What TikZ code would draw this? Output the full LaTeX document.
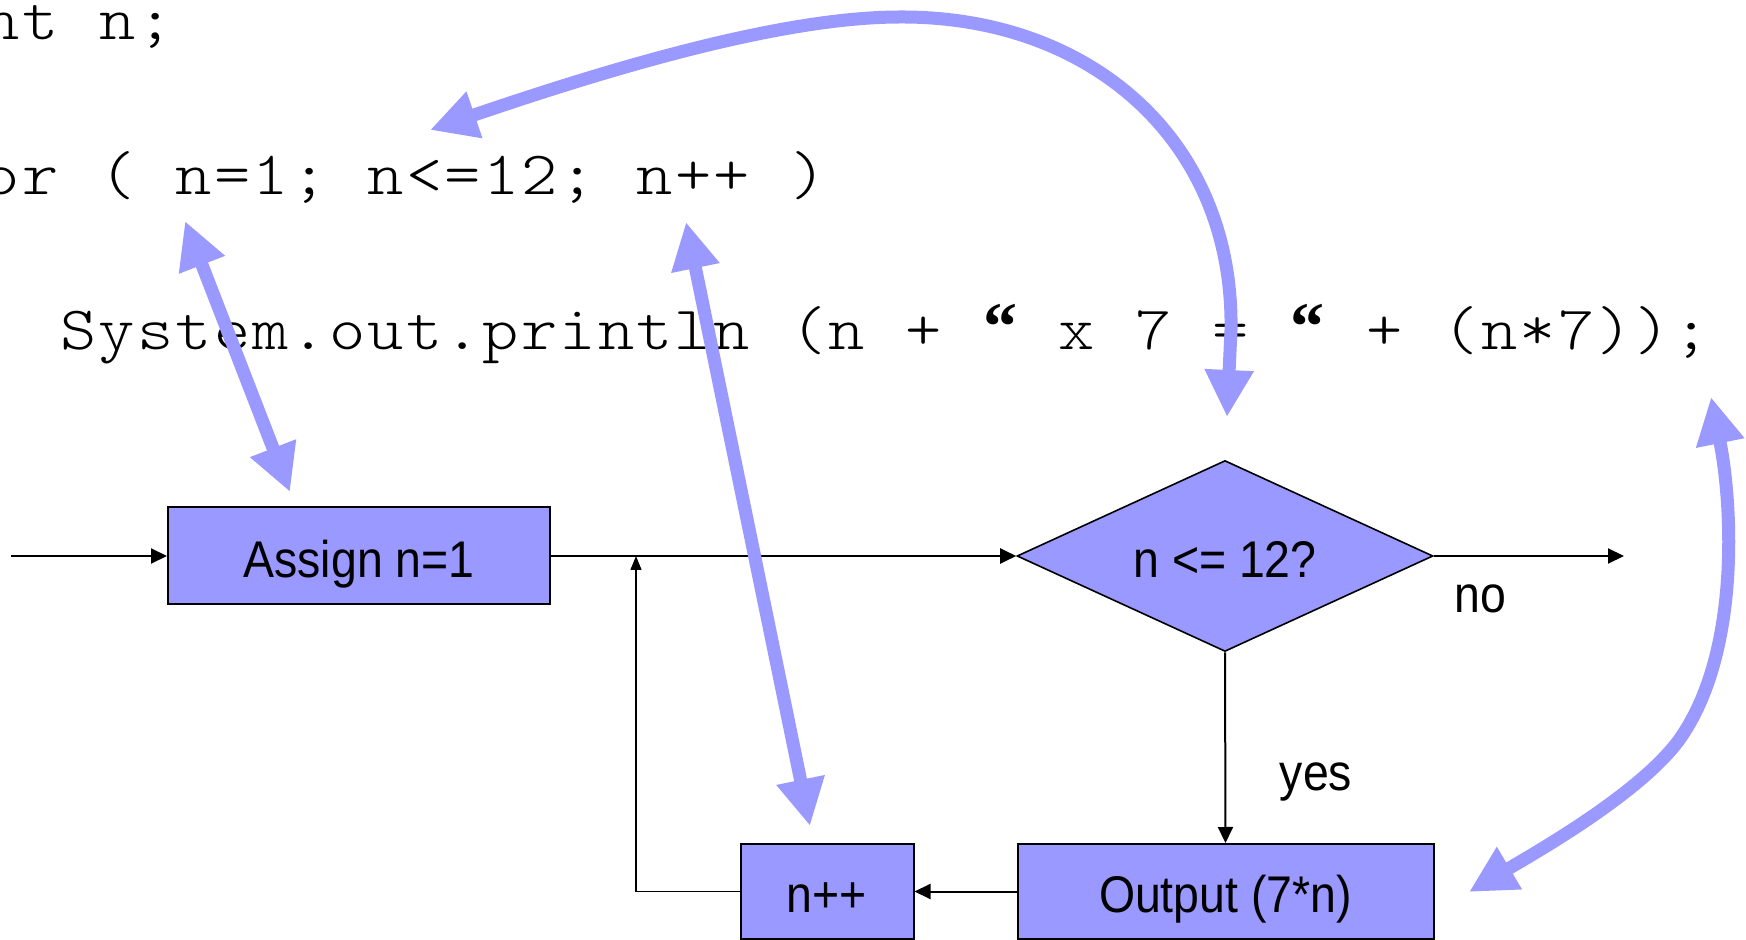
\documentclass[tikz,border=0pt]{standalone}
\usepackage{fontspec}
\newfontfamily\lblfont{Liberation Sans}[FakeStretch=0.9]
\newfontfamily\codefont{lmmonolt10-regular.otf}[FakeStretch=1.12]
\newfontfamily\quotefont{Liberation Serif}
\usetikzlibrary{arrows.meta,shapes.geometric}
\definecolor{flowblue}{RGB}{153,153,255}
\makeatletter
\newlength\cpitch
\setlength\cpitch{19.2pt}
\newcommand\monoline[1]{\@tfor\mch:=#1\do{\makebox[\cpitch]{\mch}}}
\makeatother
\newcommand\openq{{\quotefont\bfseries\fontsize{34pt}{36pt}\selectfont “}}
\begin{document}
\begin{tikzpicture}[x=0.5pt,y=-0.5pt,
  box/.style={draw=black,line width=1pt,fill=flowblue,inner sep=0pt,
    text height=21.3pt,text depth=0pt,
    font={\lblfont\fontsize{25.8pt}{30pt}\selectfont}},
  dia/.style={diamond,draw=black,line width=0.8pt,fill=flowblue,inner sep=0pt,aspect=2.18,
    minimum width=208pt,minimum height=95.5pt,text height=21.3pt,text depth=0pt,
    font={\lblfont\fontsize{25.8pt}{30pt}\selectfont}},
  code/.style={anchor=base west,inner sep=0pt,
    font={\codefont\fontsize{30.8pt}{36pt}\selectfont}},
  lbl/.style={anchor=base,inner sep=0pt,
    font={\lblfont\fontsize{25.8pt}{30pt}\selectfont}},
  flow/.style={draw=black,line width=1pt,-{Triangle[length=8pt,width=7.5pt]}},
  backflow/.style={draw=black,line width=0.7pt,-{Triangle[length=7pt,width=5.5pt]}},
  link/.style={draw=flowblue,line width=6.5pt,
    {Triangle[length=23.5pt,width=23pt]}-{Triangle[length=23.5pt,width=23pt]}}
]
\useasboundingbox (0,0) rectangle (1746,940);
\clip (0,0) rectangle (1746,940);

% code lines
\node[code] (l1) at (-56,40) {\monoline{int~n;}};
\node[code] (l2) at (-56,195) {\monoline{for~(~n=1;~n<=12;~n++~)}};
\node[code] (l3) at (59,350) {\monoline{System.out.println~(n~+~\openq~x~7~=~\openq~+~(n*7));}};

% flowchart nodes
\node[box,minimum width=191pt,minimum height=48.5pt] (asg) at (359,556) {Assign n=1};
\node[dia] (dec) at (1225,556) {n <= 12?};
\node[box,minimum width=208pt,minimum height=47.5pt] (out) at (1225.5,891.5) {Output (7*n)};
\node[box,minimum width=86.5pt,minimum height=47.5pt] (inc) at (827,891.5) {n++};
\node[lbl] (no) at (1480,613) {no};
\node[lbl] (yes) at (1316,790) {yes};

% flow connectors
\coordinate (start) at (11,556);
\coordinate (noend) at (1624,556);
\coordinate (join) at (636,556);
\draw[flow] (start) -- (asg.west);
\draw[flow] (asg.east) -- (dec.west);
\draw[flow] (dec.east) -- (noend);
\draw[flow] (dec.south) -- (out.north);
\draw[flow] (out.west) -- (inc.east);
\draw[backflow] (inc.west) -| (join);

% blue links between code and chart
\coordinate (c1) at (185,221);
\coordinate (a1) at (290,492);
\coordinate (c2) at (686,222);
\coordinate (a2) at (810,826);
\coordinate (c3) at (430,130);
\coordinate (a3) at (1227,417);
\coordinate (c4) at (1711,397);
\coordinate (a4) at (1469,892);
\draw[link] (c1) -- (a1);
\draw[link] (c2) -- (a2);
\draw[link] (c3) .. controls (606,70) and (780,17) .. (900,17)
  .. controls (1090,16) and (1234,140) .. (1231,330) -- (a3);
\draw[link] (c4) .. controls (1733,507) and (1740,655) .. (1679,740)
  .. controls (1640,793) and (1540,850) .. (a4);
\end{tikzpicture}
\end{document}
